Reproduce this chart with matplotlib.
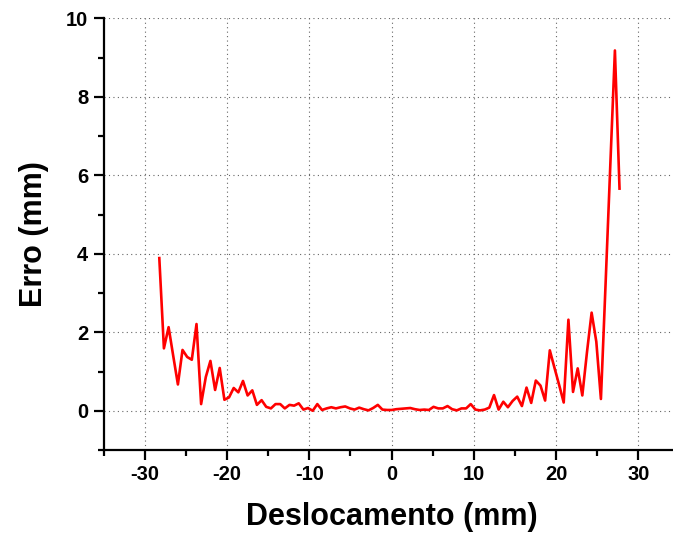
import matplotlib
matplotlib.use('Agg')
import matplotlib.pyplot as plt
from matplotlib.ticker import MultipleLocator

plt.rcParams['font.family'] = ['Liberation Sans', 'DejaVu Sans']
plt.rcParams['axes.unicode_minus'] = False

# displacement (mm) and error (mm)
deslocamento = [
    -28.22, -27.66, -27.09, -26.53, -25.96, -25.40, -24.83, -24.27, -23.70, -23.14,
    -22.57, -22.01, -21.44, -20.88, -20.31, -19.75, -19.18, -18.62, -18.05, -17.49,
    -16.92, -16.36, -15.79, -15.23, -14.66, -14.10, -13.53, -12.97, -12.40, -11.84,
    -11.28, -10.71, -10.15, -9.58, -9.02, -8.45, -7.89, -7.32, -6.76, -6.19,
    -5.63, -5.06, -4.50, -3.93, -3.37, -2.80, -2.24, -1.67, -1.11, -0.54,
    0.02, 0.58, 1.15, 1.71, 2.28, 2.84, 3.41, 3.97, 4.54, 5.10,
    5.67, 6.23, 6.80, 7.36, 7.93, 8.49, 9.06, 9.62, 10.19, 10.75,
    11.32, 11.88, 12.45, 13.01, 13.58, 14.14, 14.71, 15.27, 15.84, 16.40,
    16.97, 17.53, 18.10, 18.66, 19.23, 19.79, 20.36, 20.92, 21.49, 22.05,
    22.62, 23.18, 23.75, 24.31, 24.88, 25.44, 26.01, 26.57, 27.14, 27.70,
]
erro = [
    3.89, 1.59, 2.13, 1.40, 0.67, 1.55, 1.37, 1.30, 2.21, 0.17,
    0.86, 1.27, 0.53, 1.09, 0.28, 0.34, 0.58, 0.47, 0.76, 0.39,
    0.52, 0.15, 0.27, 0.10, 0.06, 0.17, 0.17, 0.06, 0.15, 0.13,
    0.19, 0.03, 0.07, 0.00, 0.17, 0.02, 0.06, 0.09, 0.06, 0.09,
    0.11, 0.06, 0.03, 0.08, 0.04, 0.01, 0.07, 0.15, 0.03, 0.02,
    0.02, 0.04, 0.05, 0.06, 0.07, 0.04, 0.02, 0.03, 0.02, 0.10,
    0.06, 0.06, 0.12, 0.04, 0.01, 0.06, 0.06, 0.17, 0.03, 0.01,
    0.03, 0.08, 0.40, 0.03, 0.23, 0.09, 0.25, 0.36, 0.12, 0.59,
    0.20, 0.77, 0.64, 0.26, 1.54, 1.10, 0.66, 0.21, 2.32, 0.48,
    1.08, 0.39, 1.50, 2.50, 1.76, 0.30, 3.25, 6.20, 9.18, 5.66,
]

fig = plt.figure(figsize=(6.73, 5.33), dpi=100)
ax = fig.add_axes([0.1538, 0.1557, 0.856, 0.81])

ax.plot(deslocamento, erro, color='#ff0000', linewidth=1.9, zorder=3)

ax.set_xlim(-35, 35)
ax.set_ylim(-1, 10)
ax.xaxis.set_major_locator(MultipleLocator(10))
ax.xaxis.set_minor_locator(MultipleLocator(5))
ax.yaxis.set_major_locator(MultipleLocator(2))
ax.yaxis.set_minor_locator(MultipleLocator(1))

ax.grid(which='major', linestyle=(0, (1, 3)), color='#666666', linewidth=0.8)

for side in ('top', 'right'):
    ax.spines[side].set_visible(False)
for side in ('left', 'bottom'):
    ax.spines[side].set_linewidth(1.6)

ax.tick_params(which='major', direction='out', length=7, width=1.6, labelsize=14.5, pad=4)
ax.tick_params(which='minor', direction='out', length=4, width=1.6)
for lab in ax.get_xticklabels() + ax.get_yticklabels():
    lab.set_fontweight('bold')

ax.set_xlabel('Deslocamento (mm)', fontsize=22, fontweight='bold', labelpad=13)
ax.set_ylabel('Erro (mm)', fontsize=22, fontweight='bold', labelpad=12)

fig.savefig('out.png', dpi=100)
